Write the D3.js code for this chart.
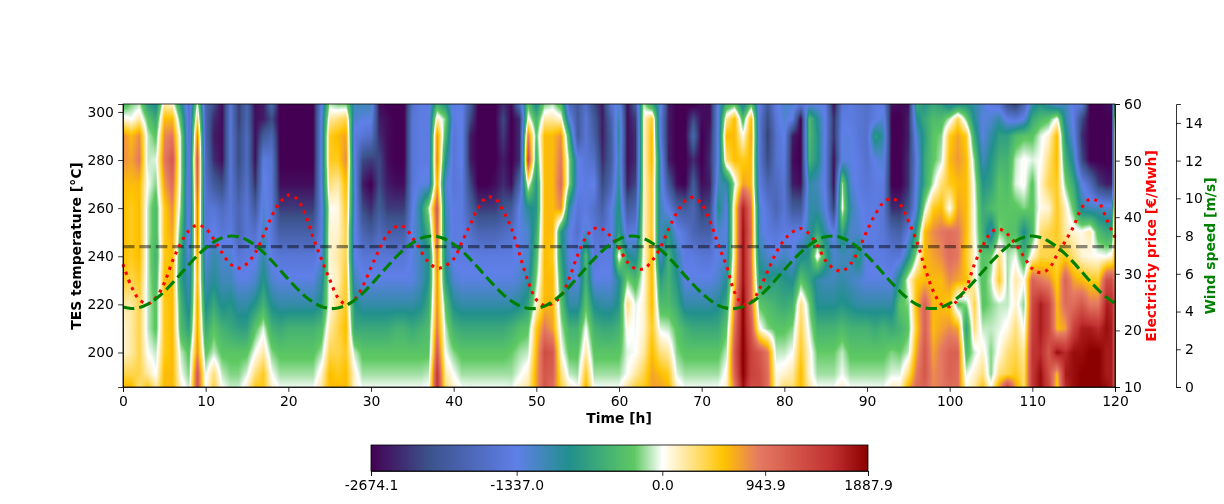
<!DOCTYPE html>
<html><head><meta charset="utf-8">
<style>html,body{margin:0;padding:0;background:#fff;width:1224px;height:504px;overflow:hidden}
canvas,svg{position:absolute;left:0;top:0}
text{font-family:"DejaVu Sans",sans-serif}</style>
<script src="https://cdn.jsdelivr.net/npm/d3@7"></script></head><body>
<svg id="c" width="1224" height="504"></svg>
<script>
const temps=[186,191,200,210,220,230,240,250,260,270,280,290,297,303];
const hours=[...d3.range(0,120),119.6,120];
// one row per entry of hours; values in hundreds, bottom to top of the temperature axis
const field=[
[6,4,1,1,2,5,6,6,6,6,8,8,1,-4],
[6,4,2,2,2,4,5,5,5,6,7,6,0,-2],
[3,4,4,4,4,5,6,6,6,6,9,8,2,-1],
[5,2,0,-1,-1,-1,-1,-1,-1,0,-1,-1,-3,-7],
[2,0,-1,-3,-3,-4,-5,-4,-4,-2,-.5,-3,-6,-9],
[6,6,5,5,5,6,5,5,5,7,9,8,6,2],
[6,6,6,6,6,6,6,7,8,10,12,9,6,1],
[1,0,-1,-4,-5,-7,-6,-4,-2,-1,-1,-1,-4,-8],
[-1,-2,-3,-7,-10,-11,-13,-15,-15,-16,-15,-16,-16,-16],
[12,12,8,7,7,6,7,9,9,11,12,9,4,0],
[0,-.5,-3,-6,-9,-11,-13,-15,-15,-16,-17,-18,-18,-18],
[4,3,-1,-3,-6,-9,-10,-13,-15,-20,-24,-25,-24,-22],
[0,-1,-3,-5,-9,-11,-12,-15,-17,-22,-26,-26,-26,-26],
[-1,-2,-3,-6,-8,-11,-12,-14,-15,-15,-15,-15,-15,-15],
[-1,-2,-3,-7,-10,-13,-15,-18,-18,-20,-22,-22,-23,-23],
[1,-.5,-3,-7,-10,-13,-14,-15,-15,-16,-17,-17,-18,-18],
[5,3,0,-3,-8,-12,-14,-16,-20,-24,-26,-26,-26,-26],
[5,5,2,-.5,-5,-8,-10,-11,-12,-13,-14,-20,-25,-25],
[1,0,-2,-5,-9,-12,-14,-15,-15,-15,-15,-18,-22,-18],
[-.3,-1.5,-3,-6,-10,-13,-15,-19,-23,-26,-27,-27,-27,-27],
[-.3,-1.5,-3,-5,-10,-13,-15,-19,-23,-26,-27,-27,-27,-27],
[-.3,-1.5,-3,-5,-10,-13,-15,-19,-23,-26,-27,-27,-27,-27],
[-.3,-1.5,-3,-5,-10,-13,-15,-19,-23,-26,-27,-27,-27,-27],
[-.3,-1.5,-3,-5,-10,-13,-15,-19,-23,-26,-27,-27,-27,-27],
[2,1,-1.5,-4,-8,-10,-13,-14,-14,-13,-13,-13,-13,-14],
[6,6,4,2,.5,.5,1,1,.3,3,5,5,2,-1],
[6,5,4,4,3,1.5,2,1,.5,2,5,6,3,-2],
[6,6,5,6,5,5,4,4,5,6,8,7,4,-2],
[1,1,-1,-6,-8,-11,-13,-13,-12,-12,-13,-14,-12,-11],
[-.3,-1.5,-3,-6,-10,-13,-15,-18,-22,-25,-22,-15,-13,-11],
[-.3,-1.5,-3,-6,-10,-13,-15,-20,-24,-27,-23,-16,-13,-11],
[-.3,-1.5,-3,-6,-10,-13,-15,-17,-20,-22,-22,-24,-25,-26],
[-.3,-1.5,-3,-6,-10,-13,-15,-19,-23,-25,-26,-26,-26,-27],
[-.3,-1.5,-3,-5,-10,-13,-15,-19,-23,-26,-27,-27,-27,-27],
[-.3,-1.5,-3,-5,-10,-13,-15,-19,-23,-26,-27,-27,-27,-27],
[-.3,-1.5,-3,-6,-10,-13,-13,-13,-14,-15,-15,-15,-15,-16],
[-.3,-1.5,-3,-5,-9,-11,-11,-10,-9,-13,-14,-14,-14,-14],
[0,-1,-3,-4,-6,-8,-9,-5,-1,-13,-14,-14,-14,-14],
[15,15,12,9,8,8,9,11,12,7,9,8,2,-5],
[3,2,0,-1,-3,-7,-9,-10,-11,-12,-8,-4,-2,-8],
[1,0,-2,-5,-9,-12,-14,-14,-14,-15,-15,-15,-14,-14],
[-.2,-1.5,-3,-6,-10,-13,-14,-14,-14,-14,-13,-13,-13,-13],
[-.3,-1.5,-3,-6,-10,-13,-14,-16,-19,-22,-25,-25,-22,-20],
[-.3,-1.5,-3,-6,-10,-13,-14,-18,-23,-27,-27,-27,-27,-27],
[-.3,-1.5,-3,-6,-10,-13,-14,-18,-23,-27,-27,-27,-27,-27],
[-.3,-1.5,-3,-6,-10,-13,-14,-18,-23,-26,-27,-27,-27,-27],
[-.3,-1.5,-3,-6,-10,-13,-14,-17,-21,-24,-25,-23,-22,-24],
[-.5,-1.5,-2.5,-5,-10,-13,-14,-16,-20,-26,-27,-27,-27,-26],
[1,-.3,-1.5,-3.5,-9,-12,-13,-13,-13,-18,-24,-24,-24,-17],
[2,1,-1,-3,-7,-10,-12,-12,-9,1,14,9,1,-3],
[7,7,6,5,1,-2,-4,-6,-8,-8,-5,-3,-5,-9],
[12,12,13,9,6,6,6,6,6,6,6,6,2,-2],
[10,11,12,7,6,6,5,6,6,6,6,6,2,-1],
[4,3,.5,-1,-3,-5,-7,-8,8,10,9,8,1,-4],
[1,-1,-3,-5,-10,-12,-13,-13,-10,-2,-2,-6,-13,-17],
[-.2,-1.5,-3,-5,-10,-13,-14,-16,-15,-13,-13,-20,-20,-20],
[6,5,2,0,-3,-5,-4,-12,-14,-14,-15,-15,-15,-16],
[-.2,-1.5,-3,-5,-9,-13,-15,-15,-16,-13,-16,-19,-20,-22],
[-.2,-1.5,-3,-6,-10,-13,-14,-16,-19,-22,-24,-25,-25,-25],
[-.2,-1.5,-3,-6,-10,-13,-14,-14,-14,-18,-20,-20,-19,-16],
[-.2,-1.5,-3,-5,-8,-9,1,-7,-8,-9,-10,-9,-10,-12],
[2,0,-.5,.5,3,-2,-8,-15,-20,-25,-26,-26,-26,-26],
[4,2,0,-.2,-.5,-4,-10,-14,-18,-22,-24,-24,-23,-20],
[5,4,2,1,1,.5,.5,1,1,1,1,1,1,-1],
[7,7,6,5,6,6,6,5,5,5,6,6,5,-6],
[7,6,3,-.5,-4,-7,-12,-11,-11,-11,-11,-14,-14,-12],
[6,5,2,-1,-4,-5,-5,-8,-14,-20,-25,-25,-25,-25],
[1,-.5,-2,-3,-6,-8,-10,-13,-19,-26,-27,-27,-27,-27],
[-.3,-1.5,-3,-5,-10,-13,-14,-15,-20,-27,-27,-27,-27,-27],
[-.3,-1.5,-3,-6,-10,-13,-14,-18,-18,-20,-24,-18,-22,-27],
[-.3,-1.5,-3,-6,-10,-13,-15,-19,-23,-26,-27,-27,-26,-26],
[-.3,-1.5,-3,-6,-10,-13,-15,-19,-22,-25,-24,-25,-26,-26],
[-.2,-1.5,-3,-6,-9,-12,-13,-12,-8,-11,-13,-13,-13,-13],
[1,.5,-1,-3,-6,-9,-12,-13,-13,-10,3,6,2,-5],
[9,11,12,10,8,5,3,3,3,-1,6,6,6,-3],
[18,19,19,19,19,18,18,18,17,7,5,.5,-4,-10],
[13,14,14,12,10,10,9,10,9,6,6,7,6,-3],
[13,13,12,.5,-3,-7,-10,-12,-12,-14,-15,-15,-15,-14],
[10,10,9,-2,-4,-8,-12,-14,-15,-18,-22,-23,-22,-20],
[1,.5,-1,-3,-5,-7,-13,-15,-18,-17,-16,-16,-15,-14],
[3,1,-1,-3,-6,-8,-11,-14,-15,-15,-14,-13,-12,-12],
[3,2,0,-2,-5,-9,-13,-14,-20,-25,-26,-25,-14,-12],
[6,6,5,4,3,-3,-9,-14,-20,-26,-27,-27,-27,-15],
[2,1,1,-.5,-2,-6,-8,-10,-10,-10,-5,-4,-4,-13],
[-.2,-1.5,-2.5,-5,-9,-10,1,-6,-10,-11,-8,-8,-9,-13],
[-.2,-1.5,-2.5,-5,-9,-11,-6,-10,-13,-14,-14,-14,-14,-14],
[-.2,-1.5,-2.5,-5,-9,-11,-12,-14,-23,-26,-26,-24,-24,-26],
[1,-.2,-1,-4,-8,-10,-11,-6,.5,-1,-13,-13,-14,-15],
[-.2,-1.5,-3,-5,-9,-11,-11,-12,-10,-12,-13,-13,-14,-14],
[-.2,-1.5,-3,-5,-10,-12,-7,-12,-13,-14,-14,-15,-15,-15],
[-.2,-1.5,-3,-5,-10,-13,-14,-14,-14,-15,-16,-16,-16,-16],
[-.3,-1.5,-3,-6,-10,-13,-14,-14,-14,-14,-13,-7,-14,-14],
[-.3,-1.5,-3,-5,-10,-13,-14,-15,-15,-14,-12,-10,-12,-14],
[1,-.5,-2,-6,-10,-13,-15,-18,-24,-27,-27,-27,-27,-26],
[1,-.5,-2.5,-5,-3,-7,-15,-19,-24,-27,-27,-27,-27,-26],
[6,3,-1,-3,-2,.5,-9,-14,-21,-24,-24,-25,-25,-26],
[10,9,7,5,6,5,-1,-7,-12,-13,-14,-12,-9,-6],
[11,12,12,11,11,6,6,6,-1,-6,-6,-7,-6,-8],
[8,8,7,6,6,6,7,8,5,-1,-3,-3,-4,-6],
[9,9,9,7,6,6,8,9,6,3,-1,-2,-4,-7],
[10,11,11,8,5,8,10,10,0,5,6,5,-1,-10],
[10,10,11,7,-3,7,9,9,7,6,7.5,7,4,-8],
[.5,-.5,-4,-7,-2,6,5,6,6,6,6,5,-2,-8],
[2,1,-.8,3,4,1,1,.3,.2,-.3,-2,-6,-9,-10],
[5,3,1,-1,-3,-3.5,-3.5,-5,-6,-8,-11,-13,-13,-12],
[.3,-2,-2,-1,-2,-1,-2.5,-11,-4,-7,-8,-10,-12,-14],
[7,3,.5,-.5,-1,5,3,-2,-3,-3,-5,-7,-10,-15],
[13,4,3,.5,-1,-1.5,-1.5,-3,-3,-4,-5,-7,-14,-21],
[7,5,4,3,1,2,-.2,-3.5,-3,-.5,-1,-4,-15,-23],
[3,3,2,-.2,-2,.1,-5,-9,-2,.3,.3,-3,-13,-18],
[15,15,15,14,13,11,1,-4,-3,-3,-.5,-3,-6,-10],
[18,18,16,17,17,9,4,3,.5,1,0,-.5,-4,-8],
[14,13,12,14,14,8,4,4,1,4,3,1,-3,-10],
[5,6,18,6,6,5,4,5,5,5,6,6,.5,-12],
[16,17,16,7,10,11,5,2,1.5,-2,-5,-8,-10,-11],
[18,18,18,14,10,7,3,1,-3,-6,-10,-13,-14,-14],
[19,19,18,17,12,6,1,.5,-10,-13,-22,-24,-22,-15],
[19,19,19,17,9,5,.5,2,-11,-17,-27,-27,-27,-27],
[19,19,19,16,9,5,.2,-4,-11,-23,-27,-27,-27,-27],
[18,17,17,18,17,13,0,-6,-12,-25,-27,-27,-27,-26],
[17,17,17,17,16,13,1,-6,-12,-25,-27,-27,-27,-26],
[12,12,12,12,12,9,5,6,6,5,5,5,3,-5]
];
const price=[31.7,27.8,25.4,24.7,25.8,28.4,32.3,35.4,37.7,38.6,38,36.1,33.7,31.7,31,31.8,33.7,36.8,40.2,42.6,43.9,43.3,40.7,36.4,32.6,29,25.8,24.6,25.4,27.8,31.1,34.3,37,38.3,38.3,36.4,34.1,32,31,31.4,32.6,35.6,38.7,41.7,43.5,43.3,41.1,38,33.3,28.7,25.4,24.4,24.8,26.1,29.3,33.3,36.4,38,37.9,36.6,34.6,32.1,30.9,30.9,32.3,34.6,37.9,40.8,42.9,43.5,42.3,39.3,35.2,31.4,26.7,24.6,25,27.3,30.5,33.7,36,37.4,38,37.1,35,32.3,30.9,30.5,31.7,34.3,37.6,40.5,42.6,43.3,42.3,39.3,35.8,31.1,27,24.6,24.2,25.4,27.6,31.7,34.9,37.3,37.9,37,35.2,33,30.9,30.2,30.9,33.4,35.8,38.4,41.7,43.2,42.7,39.6,36.4];
const wind=[4.24,4.16,4.21,4.39,4.68,5.06,5.52,6.01,6.5,6.97,7.37,7.69,7.91,8,7.96,7.79,7.51,7.14,6.69,6.2,5.71,5.24,4.82,4.49,4.27,4.16,4.19,4.33,4.6,4.97,5.42,5.91,6.4,6.88,7.3,7.63,7.88,7.99,7.98,7.83,7.57,7.22,6.78,6.3,5.8,5.33,4.9,4.55,4.3,4.17,4.17,4.29,4.54,4.89,5.32,5.81,6.31,6.79,7.22,7.57,7.84,7.98,7.99,7.87,7.63,7.29,6.87,6.4,5.9,5.42,4.98,4.61,4.33,4.18,4.16,4.26,4.48,4.81,5.23,5.71,6.21,6.7,7.14,7.51,7.8,7.96,8,7.9,7.68,7.36,6.96,6.5,6,5.51,5.06,4.67,4.38,4.2,4.16,4.23,4.43,4.74,5.15,5.62,6.12,6.61,7.06,7.45,7.75,7.94,8,7.92,7.72,7.42,7.04,6.59,6.1,5.6,5.14,4.74,4.43];
const xTicks=d3.range(0,121,10), tempTicks=[200,220,240,260,280,300], priceTicks=[10,20,30,40,50,60], windTicks=[0,2,4,6,8,10,12,14];
const cbTicks=[-2674.1,-1337.0,0,943.9,1887.9];
const cmapVals=[-2674.1,-2145,-1340,-850,-256,0,565,880,1560,1887.9];
const cmapCols=["#440154","#3b528b","#5f7fe8","#21908c","#5ec962","#ffffff","#ffc300","#e57a62","#c03030","#8b0000"];
const refT=244;
const L=123,R=1115,T=104,B=387;
const x=d3.scaleLinear([0,120],[L,R]);
const y=d3.scaleLinear([185.65,303.3],[B,T]);
const yP=d3.scaleLinear([10,60],[B,T]);
const yW=d3.scaleLinear([0,15],[B,T]);
const color=d3.scaleLinear().domain(cmapVals).range(cmapCols).clamp(true);
function sample(h,t){
  let i=d3.bisectRight(hours,h)-1; i=Math.min(hours.length-2,Math.max(0,i));
  const fx=Math.min(1,Math.max(0,(h-hours[i])/(hours[i+1]-hours[i])));
  let j=d3.bisectRight(temps,t)-1; j=Math.min(temps.length-2,Math.max(0,j));
  const fy=Math.min(1,Math.max(0,(t-temps[j])/(temps[j+1]-temps[j])));
  const a=field[i][j],b=field[i+1][j],c=field[i][j+1],d=field[i+1][j+1];
  return 100*((a*(1-fx)+b*fx)*(1-fy)+(c*(1-fx)+d*fx)*fy);
}
function paint(id,l,t,w,h,fn){
  const cv=document.createElement("canvas");cv.width=w;cv.height=h;
  cv.style.left=l+"px";cv.style.top=t+"px";cv.id=id;
  document.body.insertBefore(cv,document.getElementById("c"));
  const g=cv.getContext("2d"),im=g.createImageData(w,h);
  for(let py=0;py<h;py++)for(let px=0;px<w;px++){
    const c=d3.rgb(color(fn(px,py))),k=4*(py*w+px);
    im.data[k]=c.r;im.data[k+1]=c.g;im.data[k+2]=c.b;im.data[k+3]=255;
  }
  g.putImageData(im,0,0);
}
paint("heat",L,T,R-L,B-T,(px,py)=>sample(x.invert(L+px+.5),y.invert(T+py+.5)));
const CL=371,CR=868,CT=445,CB=471;
const cx=d3.scaleLinear([-2674.1,1887.9],[CL,CR]);
paint("bar",CL,CT,CR-CL,CB-CT,(px)=>cx.invert(CL+px+.5));
const svg=d3.select("#c");
const fs="13.9px";
function style(g){g.selectAll("text").attr("font-size",fs).attr("font-family",'"DejaVu Sans",sans-serif').attr("fill","#000");
  g.selectAll("line,path").attr("stroke","#000").attr("stroke-width",.8);}
const lw=3.1;
svg.append("line").attr("x1",L).attr("x2",R).attr("y1",y(refT)).attr("y2",y(refT))
 .attr("stroke","#000").attr("stroke-opacity",.45).attr("stroke-width",lw).attr("stroke-dasharray",`${3.7*lw} ${1.6*lw}`);
svg.append("path").datum(price).attr("fill","none").attr("stroke","#ff0000").attr("stroke-width",lw).attr("stroke-dasharray",`${lw} ${1.65*lw}`)
 .attr("d",d3.line().x((d,i)=>x(i)).y(d=>yP(d)).curve(d3.curveCatmullRom));
svg.append("path").datum(wind).attr("fill","none").attr("stroke","#008000").attr("stroke-width",lw).attr("stroke-dasharray",`${3.7*lw} ${1.6*lw}`)
 .attr("d",d3.line().x((d,i)=>x(i)).y(d=>yW(d)).curve(d3.curveCatmullRom));
const tick=(a)=>a.tickSizeOuter(0).tickSize(4.86).tickPadding(4.2);
svg.append("g").attr("transform",`translate(0,${B})`).call(tick(d3.axisBottom(x).tickValues(xTicks).tickFormat(d3.format("d")))).call(style);
svg.append("g").attr("transform",`translate(${L},0)`).call(tick(d3.axisLeft(y).tickValues(tempTicks).tickFormat(d3.format("d")))).call(style);
svg.append("g").attr("transform",`translate(${R},0)`).call(tick(d3.axisRight(yP).tickValues(priceTicks).tickFormat(d3.format("d")))).call(style);
svg.append("g").attr("transform",`translate(1176,0)`).call(tick(d3.axisRight(yW).tickValues(windTicks).tickFormat(d3.format("d")))).call(style);
svg.append("rect").attr("x",L).attr("y",T).attr("width",R-L).attr("height",B-T).attr("fill","none").attr("stroke","#000").attr("stroke-width",.8);
svg.append("g").attr("transform",`translate(0,${CB})`).call(tick(d3.axisBottom(cx).tickValues(cbTicks).tickFormat(v=>v.toFixed(1)))).call(style);
svg.append("rect").attr("x",CL).attr("y",CT).attr("width",CR-CL).attr("height",CB-CT).attr("fill","none").attr("stroke","#000").attr("stroke-width",.8);
const lab=(s,px,py,col,rot)=>svg.append("text").text(s).attr("font-size",fs).attr("font-weight","bold").attr("fill",col).attr("text-anchor","middle")
 .attr("transform",`translate(${px},${py})`+(rot?" rotate(-90)":""));
lab("Time [h]",619,423,"#000",false);
lab("TES temperature [°C]",81,246,"#000",true);
lab("Electricity price [€/Mwh]",1156,246,"#ff0000",true);
lab("Wind speed [m/s]",1215,246,"#008000",true);
</script></body></html>
